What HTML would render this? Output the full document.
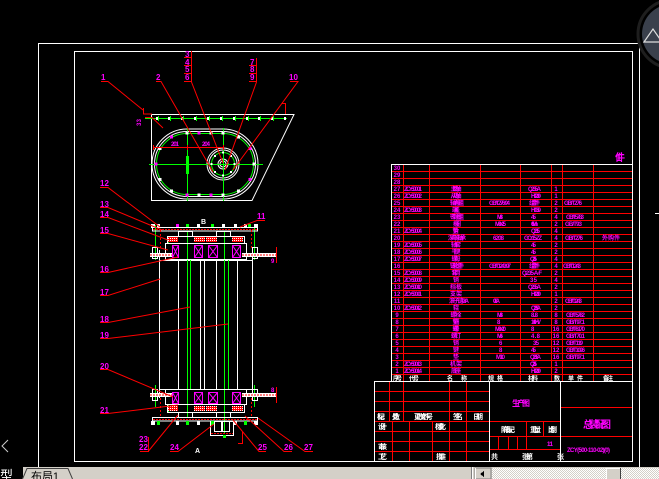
<!DOCTYPE html>
<html><head><meta charset="utf-8"><style>
html,body{margin:0;padding:0;background:#000;width:659px;height:479px;overflow:hidden}
svg{display:block}
text{font-family:"Liberation Sans","Noto Sans CJK SC",sans-serif}
.m{fill:#f0f;font-size:6px;font-weight:bold}
.w{fill:#fff;font-size:6px;font-weight:bold}
.lb{fill:#f0f;font-size:8px;font-weight:bold}
.tw{fill:#fff;font-size:7px;font-weight:bold}
</style></head><body>
<svg width="659" height="479" viewBox="0 0 659 479" xmlns="http://www.w3.org/2000/svg" shape-rendering="crispEdges">
<defs>
<pattern id="hx" width="2" height="2" patternUnits="userSpaceOnUse"><rect width="2" height="2" fill="#f00"/><rect width="1" height="1" fill="#fff"/></pattern>
<pattern id="chk" width="2" height="2" patternUnits="userSpaceOnUse"><rect width="2" height="2" fill="#fff"/><rect width="1" height="1" fill="#d4d0c8"/><rect x="1" y="1" width="1" height="1" fill="#d4d0c8"/></pattern>
</defs>
<rect width="659" height="479" fill="#000"/>

<!-- frames -->
<g stroke="#fff" fill="none">
<path d="M38.5,470 V43.5 H639.5 V470"/>
<path d="M74.5,461.5 V51.5 H632.5 V461.5 Z"/>
</g>

<!-- top-right nav widget -->
<circle cx="672" cy="34" r="34" fill="none" stroke="#1e1e1e" stroke-width="3" shape-rendering="auto"/>
<circle cx="672" cy="34" r="30" fill="#3a404c" shape-rendering="auto"/>
<polygon points="644,42 653,29 662,42" fill="none" stroke="#ddd" stroke-width="1.2" shape-rendering="auto"/>
<line x1="655" y1="213.5" x2="659" y2="213.5" stroke="#fff"/>
<polyline points="8,440 2,446 8,452" fill="none" stroke="#ccc" shape-rendering="auto"/>

<!-- ===== TOP VIEW ===== -->
<path d="M151.5,114.5 H294 L252,200.5 H151.5 Z" stroke="#fff" fill="none" shape-rendering="auto"/>
<line x1="145" y1="118.5" x2="287" y2="118.5" stroke="#0f0"/>
<g fill="#fff">
<rect x="156" y="117" width="2" height="3"/><rect x="168" y="117" width="2" height="3"/><rect x="181" y="117" width="2" height="3"/><rect x="194" y="117" width="2" height="3"/><rect x="207" y="117" width="2" height="3"/><rect x="220" y="117" width="2" height="3"/><rect x="233" y="117" width="2" height="3"/><rect x="246" y="117" width="2" height="3"/><rect x="258" y="117" width="2" height="3"/><rect x="271" y="117" width="2" height="3"/><rect x="284" y="117" width="2" height="3"/>
</g>
<g stroke="#0f0">
<path d="M158.5,116V121M170.5,116V121M183.5,116V121M196.5,116V121M209.5,116V121M222.5,116V121M235.5,116V121M248.5,116V121M260.5,116V121M273.5,116V121"/>
</g>
<path d="M187,129 H223 A35,35 0 0 1 223,199 H187 A35,35 0 0 1 187,129 Z" stroke="#fff" fill="none" shape-rendering="auto"/>
<path d="M187,131.5 H223 A32.5,32.5 0 0 1 223,196.5 H187 A32.5,32.5 0 0 1 187,131.5 Z" stroke="#fff" fill="none" shape-rendering="auto"/>
<path d="M187,133.5 H223 A30.5,30.5 0 0 1 223,194.5 H187 A30.5,30.5 0 0 1 187,133.5 Z" stroke="#0f0" fill="none" shape-rendering="auto"/>
<g fill="none" shape-rendering="auto">
<circle cx="223" cy="164" r="16" stroke="#fff"/>
<circle cx="223" cy="164" r="14" stroke="#fff"/>
<circle cx="223" cy="164" r="11.5" stroke="#0f0"/>
<circle cx="223" cy="164" r="5" stroke="#fff"/>
<circle cx="223" cy="164" r="3" stroke="#fff"/>
</g>
<g stroke="#0f0">
<line x1="149" y1="164.5" x2="263" y2="164.5"/>
<line x1="187.5" y1="128" x2="187.5" y2="201"/>
<line x1="223.5" y1="128" x2="223.5" y2="201"/>
</g>
<rect x="186" y="156" width="3" height="18" fill="#0f0"/>
<!-- chain dots -->
<g>
<rect x="185.5" y="131.5" width="3" height="3" fill="#fff"/><rect x="197.5" y="131.5" width="3" height="3" fill="#f0f"/><rect x="209.5" y="131.5" width="3" height="3" fill="#fff"/><rect x="221.5" y="131.5" width="3" height="3" fill="#fff"/>
<rect x="237" y="135.7" width="3" height="3" fill="#fff"/><rect x="248.3" y="147" width="3" height="3" fill="#f0f"/><rect x="252.5" y="162.5" width="3" height="3" fill="#fff"/><rect x="248.3" y="178" width="3" height="3" fill="#f0f"/><rect x="237" y="189.3" width="3" height="3" fill="#fff"/>
<rect x="221.5" y="193.5" width="3" height="3" fill="#fff"/><rect x="209.5" y="193.5" width="3" height="3" fill="#f0f"/><rect x="197.5" y="193.5" width="3" height="3" fill="#fff"/><rect x="185.5" y="193.5" width="3" height="3" fill="#f0f"/>
<rect x="170" y="189.3" width="3" height="3" fill="#fff"/><rect x="158.7" y="178" width="3" height="3" fill="#fff"/><rect x="154.5" y="162.5" width="3" height="3" fill="#f0f"/><rect x="158.7" y="147" width="3" height="3" fill="#fff"/><rect x="170" y="135.7" width="3" height="3" fill="#f0f"/>
</g>
<g fill="#fff">
<rect x="233.5" y="163" width="2" height="2"/><rect x="230" y="171" width="2" height="2"/><rect x="222" y="174.5" width="2" height="2"/><rect x="214" y="171" width="2" height="2"/><rect x="210.5" y="163" width="2" height="2"/><rect x="214" y="155" width="2" height="2"/><rect x="222" y="151.5" width="2" height="2"/><rect x="230" y="155" width="2" height="2"/>
</g>
<!-- dimension -->
<g stroke="#f00">
<line x1="153" y1="147.5" x2="223" y2="147.5"/>
<line x1="153.5" y1="145" x2="153.5" y2="150"/>
<line x1="187.5" y1="145" x2="187.5" y2="150"/>
<line x1="223.5" y1="145" x2="223.5" y2="150"/>
</g>
<text class="m" x="171" y="146" textLength="8">201</text>
<text class="m" x="202" y="146" textLength="8">204</text>

<!-- top view leaders -->
<g stroke="#f00" fill="none" shape-rendering="auto">
<path d="M101,81.5H108L143,110"/>
<path d="M143.5,108V114H152"/>
<path d="M145,117.5H152L163,128"/>
<path d="M156,81.5H161L213,172"/>
<path d="M191.5,51V82L223,163"/>
<path d="M184,57.5H191M184,65.5H191M184,73.5H191M184,81.5H191"/>
<path d="M256.5,58V82L225,170"/>
<path d="M249,65.5H256M249,73.5H256M249,81.5H256"/>
<path d="M290,81.5H298L233,170"/>
<path d="M282,103.5H285.5V114"/>
</g>
<text class="lb" x="101" y="80">1</text>
<text class="lb" x="156" y="80">2</text>
<text class="lb" x="185" y="57">3</text>
<text class="lb" x="185" y="65">4</text>
<text class="lb" x="185" y="72">5</text>
<text class="lb" x="185" y="80">6</text>
<text class="lb" x="250" y="65">7</text>
<text class="lb" x="250" y="72">8</text>
<text class="lb" x="250" y="80">9</text>
<text class="lb" x="289" y="80">10</text>
<text class="m" transform="translate(141,126) rotate(-90)" textLength="7">33</text>

<!-- ===== FRONT VIEW ===== -->
<g stroke="#fff" fill="none">
<line x1="159.5" y1="250" x2="159.5" y2="398"/>
<line x1="252.5" y1="250" x2="252.5" y2="398"/>
<line x1="178.5" y1="260" x2="178.5" y2="389"/>
<line x1="200.5" y1="260" x2="200.5" y2="389"/>
<line x1="204.5" y1="260" x2="204.5" y2="389"/>
<line x1="216.5" y1="260" x2="216.5" y2="389"/>
<line x1="237.5" y1="260" x2="237.5" y2="389"/>
<line x1="159" y1="260.5" x2="253" y2="260.5"/>
<line x1="159" y1="389.5" x2="253" y2="389.5"/>
</g>
<g stroke="#0f0">
<line x1="187.5" y1="232" x2="187.5" y2="417"/>
<line x1="190.5" y1="260" x2="190.5" y2="390"/>
<line x1="224.5" y1="232" x2="224.5" y2="433"/>
<line x1="228.5" y1="260" x2="228.5" y2="390"/>
<line x1="155.5" y1="225" x2="155.5" y2="260"/>
<line x1="254.5" y1="225" x2="254.5" y2="260"/>
<line x1="155.5" y1="385" x2="155.5" y2="407"/>
<line x1="254.5" y1="385" x2="254.5" y2="407"/>
<line x1="168.5" y1="236" x2="168.5" y2="244"/>
<line x1="244.5" y1="236" x2="244.5" y2="244"/>
<line x1="168.5" y1="404" x2="168.5" y2="412"/>
<line x1="244.5" y1="404" x2="244.5" y2="412"/>
</g>

<!-- top assembly -->
<g fill="#fff">
<rect x="151" y="224" width="4" height="4"/><rect x="157" y="224" width="3" height="4"/><rect x="176" y="224" width="3" height="4" fill="#f0f"/><rect x="186" y="224" width="3" height="4" fill="#0f0"/><rect x="197" y="224" width="3" height="4"/><rect x="211" y="224" width="3" height="4" fill="#0f0"/><rect x="222" y="224" width="3" height="4"/><rect x="234" y="224" width="3" height="4"/><rect x="244" y="224" width="3" height="4"/><rect x="248" y="224" width="3" height="4" fill="#0f0"/><rect x="254" y="224" width="4" height="4"/>
</g>
<rect x="152.5" y="227.5" width="105" height="3.5" fill="none" stroke="#fff"/>
<line x1="153" y1="229.5" x2="257" y2="229.5" stroke="#f00" stroke-dasharray="2,1"/>
<g stroke="#fff" fill="none">
<rect x="178.5" y="231.5" width="14" height="5"/>
<rect x="216.5" y="231.5" width="14" height="5"/>
<rect x="167.5" y="236.5" width="77" height="7"/>
<rect x="165.5" y="243.5" width="81" height="16"/>
<rect x="152.5" y="247.5" width="5" height="11"/>
<rect x="252.5" y="247.5" width="5" height="11"/>
</g>
<g fill="url(#hx)">
<rect x="168" y="237" width="10" height="5"/><rect x="194" y="237" width="11" height="5"/><rect x="206" y="237" width="11" height="5"/><rect x="232" y="237" width="11" height="5"/>
</g>
<g stroke="#f0f" fill="none" shape-rendering="auto">
<rect x="172.5" y="245.5" width="6" height="12"/><path d="M172.5,245.5L178.5,257.5M178.5,245.5L172.5,257.5"/>
<rect x="194.5" y="245.5" width="8" height="12"/><path d="M194.5,245.5L202.5,257.5M202.5,245.5L194.5,257.5"/>
<rect x="208.5" y="245.5" width="9" height="12"/><path d="M208.5,245.5L217.5,257.5M217.5,245.5L208.5,257.5"/>
<rect x="232.5" y="245.5" width="8" height="12"/><path d="M232.5,245.5L240.5,257.5M240.5,245.5L232.5,257.5"/>
</g>
<g>
<rect x="150" y="253" width="22" height="4" fill="#fff"/><line x1="150" y1="255" x2="172" y2="255" stroke="#f00" stroke-dasharray="2,1"/>
<rect x="242" y="253" width="35" height="4" fill="#fff"/><line x1="242" y1="255" x2="277" y2="255" stroke="#f00" stroke-dasharray="2,1"/>
</g>
<g stroke="#f00" stroke-dasharray="2,2">
<line x1="160.5" y1="230" x2="160.5" y2="250"/>
<line x1="251.5" y1="230" x2="251.5" y2="250"/>
</g>
<line x1="276.5" y1="247" x2="276.5" y2="263" stroke="#f00"/>
<text class="m" x="271" y="263" textLength="5">9</text>

<!-- bottom assembly -->
<g stroke="#fff" fill="none">
<rect x="165.5" y="389.5" width="81" height="15"/>
<rect x="167.5" y="404.5" width="77" height="8"/>
<rect x="178.5" y="412.5" width="14" height="5"/>
<rect x="216.5" y="412.5" width="14" height="5"/>
<rect x="152.5" y="389.5" width="5" height="11"/>
<rect x="252.5" y="389.5" width="5" height="11"/>
<rect x="152.5" y="417.5" width="105" height="3.5"/>
<rect x="210.5" y="421.5" width="23" height="14"/>
<rect x="214.5" y="421.5" width="7" height="10"/>
<rect x="222.5" y="421.5" width="7" height="10"/>
</g>
<line x1="153" y1="419.5" x2="257" y2="419.5" stroke="#f00" stroke-dasharray="2,1"/>
<line x1="211" y1="433.5" x2="233" y2="433.5" stroke="#f00" stroke-dasharray="2,1"/>
<g fill="#fff">
<rect x="151" y="421" width="4" height="4"/><rect x="157" y="421" width="3" height="4" fill="#0f0"/><rect x="176" y="421" width="3" height="4"/><rect x="186" y="421" width="3" height="4" fill="#0f0"/><rect x="197" y="421" width="3" height="4"/><rect x="211" y="421" width="3" height="4" fill="#0f0"/><rect x="234" y="421" width="3" height="4"/><rect x="244" y="421" width="3" height="4" fill="#0f0"/><rect x="254" y="421" width="4" height="4"/>
<rect x="223" y="435" width="3" height="3" fill="#0f0"/>
</g>
<g fill="url(#hx)">
<rect x="168" y="406" width="10" height="5"/><rect x="194" y="406" width="11" height="5"/><rect x="206" y="406" width="11" height="5"/><rect x="232" y="406" width="11" height="5"/>
</g>
<g stroke="#f0f" fill="none" shape-rendering="auto">
<rect x="172.5" y="392.5" width="6" height="11"/><path d="M172.5,392.5L178.5,403.5M178.5,392.5L172.5,403.5"/>
<rect x="194.5" y="392.5" width="8" height="11"/><path d="M194.5,392.5L202.5,403.5M202.5,392.5L194.5,403.5"/>
<rect x="208.5" y="392.5" width="9" height="11"/><path d="M208.5,392.5L217.5,403.5M217.5,392.5L208.5,403.5"/>
<rect x="232.5" y="392.5" width="8" height="11"/><path d="M232.5,392.5L240.5,403.5M240.5,392.5L232.5,403.5"/>
</g>
<g>
<rect x="150" y="393" width="22" height="4" fill="#fff"/><line x1="150" y1="395" x2="172" y2="395" stroke="#f00" stroke-dasharray="2,1"/>
<rect x="242" y="393" width="35" height="4" fill="#fff"/><line x1="242" y1="395" x2="277" y2="395" stroke="#f00" stroke-dasharray="2,1"/>
</g>
<g stroke="#f00" stroke-dasharray="2,2">
<line x1="160.5" y1="398" x2="160.5" y2="418"/>
<line x1="251.5" y1="398" x2="251.5" y2="418"/>
</g>
<line x1="276.5" y1="387" x2="276.5" y2="403" stroke="#f00"/>
<path d="M242.5,432V443.5H238" stroke="#f00" fill="none"/>
<text class="m" x="271" y="392" textLength="5">8</text>

<text class="tw" x="201" y="224">B</text>
<text class="tw" x="195" y="453">A</text>

<!-- front view leaders -->
<g stroke="#f00" fill="none" shape-rendering="auto">
<path d="M100,187.5H108L160,227"/>
<path d="M100,207.5H108L162,230"/>
<path d="M100,217.5H108L168,240"/>
<path d="M100,233.5H108L168,250"/>
<path d="M100,272.5H108L178,257"/>
<path d="M100,295.5H108L160,279"/>
<path d="M100,322.5H108L190,307"/>
<path d="M100,338.5H108L228,324"/>
<path d="M100,369.5H108L173,397"/>
<path d="M100,413.5H108L178,405"/>
<path d="M140,451.5H148.5V437M148.5,451L178,415"/>
<path d="M170,451.5H178L214,424"/>
<path d="M266,451.5H259L233,420"/>
<path d="M292,451.5H284L245,416"/>
<path d="M313,451.5H305L258,418"/>
<path d="M265,220.5H257L240,227"/>
</g>
<text class="lb" x="100" y="186">12</text>
<text class="lb" x="100" y="207">13</text>
<text class="lb" x="100" y="217">14</text>
<text class="lb" x="100" y="233">15</text>
<text class="lb" x="100" y="272">16</text>
<text class="lb" x="100" y="295">17</text>
<text class="lb" x="100" y="322">18</text>
<text class="lb" x="100" y="338">19</text>
<text class="lb" x="100" y="369">20</text>
<text class="lb" x="100" y="413">21</text>
<text class="lb" x="139" y="442">23</text>
<text class="lb" x="139" y="450">22</text>
<text class="lb" x="170" y="450">24</text>
<text class="lb" x="258" y="450">25</text>
<text class="lb" x="284" y="450">26</text>
<text class="lb" x="304" y="450">27</text>
<text class="lb" x="257" y="219">11</text>

<!-- ===== BOM TABLE ===== -->
<text class="m" x="615" y="161" style="font-size:10px" textLength="9">1件</text>
<g stroke="#f00">
<path d="M391,171.5H632M391,178.5H632M391,185.5H632M391,192.5H632M391,199.5H632M391,206.5H632M391,213.5H632M391,220.5H632M391,227.5H632M391,234.5H632M391,241.5H632M391,248.5H632M391,255.5H632M391,262.5H632M391,269.5H632M391,276.5H632M391,283.5H632M391,290.5H632M391,297.5H632M391,304.5H632M391,311.5H632M391,318.5H632M391,325.5H632M391,332.5H632M391,339.5H632M391,346.5H632M391,353.5H632M391,360.5H632M391,367.5H632M391,374.5H632"/>
<path d="M403.5,164V381M429.5,164V381M480.5,164V381M520.5,164V381M551.5,164V381M562.5,164V381M593.5,164V381"/>
</g>
<line x1="391" y1="164.5" x2="633" y2="164.5" stroke="#fff"/>
<line x1="391.5" y1="164" x2="391.5" y2="381" stroke="#fff"/>

<g class="m" text-anchor="middle">
<text x="397" y="170">30</text><text x="397" y="177">29</text><text x="397" y="184">28</text><text x="397" y="191">27</text><text x="397" y="198">26</text><text x="397" y="205">25</text><text x="397" y="212">24</text><text x="397" y="219">23</text><text x="397" y="226">22</text><text x="397" y="233">21</text><text x="397" y="240">20</text><text x="397" y="247">19</text><text x="397" y="254">18</text><text x="397" y="261">17</text><text x="397" y="268">16</text><text x="397" y="275">15</text><text x="397" y="282">14</text><text x="397" y="289">13</text><text x="397" y="296">12</text><text x="397" y="303">11</text><text x="397" y="310">10</text><text x="397" y="317">9</text><text x="397" y="324">8</text><text x="397" y="331">7</text><text x="397" y="338">6</text><text x="397" y="345">5</text><text x="397" y="352">4</text><text x="397" y="359">3</text><text x="397" y="366">2</text><text x="397" y="373">1</text>
</g>
<g class="m">
<text x="404" y="191" textLength="18">ZCY500-01</text>
<text x="404" y="198" textLength="18">ZCY500-02</text>
<text x="404" y="212" textLength="18">ZCY500-03</text>
<text x="404" y="233" textLength="18">ZCY500-04</text>
<text x="404" y="247" textLength="18">ZCY500-05</text>
<text x="404" y="254" textLength="18">ZCY500-06</text>
<text x="404" y="261" textLength="18">ZCY500-07</text>
<text x="404" y="275" textLength="18">ZCY500-08</text>
<text x="404" y="282" textLength="18">ZCY500-09</text>
<text x="404" y="289" textLength="18">ZCY500-10</text>
<text x="404" y="296" textLength="18">ZCY500-11</text>
<text x="404" y="310" textLength="18">ZCY500-12</text>
<text x="404" y="366" textLength="18">ZCY500-13</text>
<text x="404" y="373" textLength="18">ZCY500-14</text>
</g>
<g class="m" text-anchor="middle">
<text x="456" y="191" textLength="11">主动轴</text>
<text x="456" y="198" textLength="11">从动轴</text>
<text x="457" y="205" textLength="14">轴承座组</text>
<text x="456" y="212" textLength="8">端盖</text>
<text x="457" y="219" textLength="14">密封圈组</text>
<text x="457" y="226" textLength="8">挡圈</text>
<text x="456" y="233" textLength="7">垫片</text>
<text x="457" y="240" textLength="18">深沟球轴承</text>
<text x="456" y="247" textLength="10">轴套</text>
<text x="456" y="254" textLength="9">平键</text>
<text x="456" y="261" textLength="9">螺母</text>
<text x="457" y="268" textLength="14">链轮组件</text>
<text x="456" y="275" textLength="9">套筒</text>
<text x="456" y="282" textLength="7">销</text>
<text x="456" y="289" textLength="12">挡板</text>
<text x="456" y="296" textLength="12">支架</text>
<text x="459" y="303" textLength="20">滚子链08A</text>
<text x="456" y="310" textLength="6">辊</text>
<text x="456" y="317" textLength="11">螺栓</text>
<text x="456" y="324" textLength="7">垫圈</text>
<text x="456" y="331" textLength="7">螺母</text>
<text x="456" y="338" textLength="10">螺钉</text>
<text x="456" y="345" textLength="7">销</text>
<text x="456" y="352" textLength="7">键</text>
<text x="456" y="359" textLength="7">垫</text>
<text x="456" y="366" textLength="12">机架</text>
<text x="456" y="373" textLength="10">底座</text>
</g>
<g class="m">
<text x="489" y="205" textLength="21">GB/T276-94</text>
<text x="497" y="219" textLength="6">M8</text>
<text x="495" y="226" textLength="11">M8×25</text>
<text x="493" y="240" textLength="11">6208</text>
<text x="489" y="268" textLength="22">GB/T1243-97</text>
<text x="493" y="303" textLength="7">08A</text>
<text x="497" y="317" textLength="6">M8</text>
<text x="497" y="324" textLength="6">8</text>
<text x="495" y="331" textLength="11">M8×20</text>
<text x="497" y="338" textLength="6">M6</text>
<text x="499" y="345" textLength="5">6</text>
<text x="499" y="352" textLength="5">8</text>
<text x="496" y="359" textLength="9">M10</text>
</g>
<g class="m">
<text x="528" y="191" textLength="13">Q235-A</text>
<text x="531" y="198" textLength="10">HT200</text>
<text x="529" y="205" textLength="11">组合件</text>
<text x="531" y="212" textLength="10">HT150</text>
<text x="531" y="219" textLength="5">45</text>
<text x="531" y="226" textLength="7">65Mn</text>
<text x="531" y="233" textLength="9">Q235</text>
<text x="524" y="240" textLength="18">GCr15-ZZ</text>
<text x="531" y="247" textLength="5">45</text>
<text x="531" y="254" textLength="5">45</text>
<text x="530" y="261" textLength="7">Q235</text>
<text x="529" y="268" textLength="11">组合件</text>
<text x="522" y="275" textLength="20">Q235-A·F</text>
<text x="530" y="282" textLength="7">35</text>
<text x="528" y="289" textLength="13">Q235-A</text>
<text x="531" y="296" textLength="10">HT200</text>
<text x="531" y="310" textLength="10">Q235A</text>
<text x="531" y="317" textLength="7">8.8</text>
<text x="531" y="324" textLength="10">140HV</text>
<text x="531" y="331" textLength="5">8</text>
<text x="531" y="338" textLength="9">4.8</text>
<text x="533" y="345" textLength="6">35</text>
<text x="531" y="352" textLength="5">45</text>
<text x="530" y="359" textLength="11">Q235A</text>
<text x="530" y="366" textLength="7">Q235</text>
<text x="531" y="373" textLength="10">HT200</text>
</g>
<g class="m" text-anchor="middle">
<text x="556" y="191">1</text><text x="556" y="198">1</text><text x="556" y="205">2</text><text x="556" y="212">2</text><text x="556" y="219">4</text><text x="556" y="226">2</text><text x="556" y="233">4</text><text x="556" y="240">4</text><text x="556" y="247">2</text><text x="556" y="254">2</text><text x="556" y="261">4</text><text x="556" y="268">4</text><text x="556" y="275">2</text><text x="556" y="282">4</text><text x="556" y="289">2</text><text x="556" y="296">1</text><text x="556" y="303">2</text><text x="556" y="310">2</text><text x="556" y="317">8</text><text x="556" y="324">8</text><text x="556" y="331">16</text><text x="556" y="338">16</text><text x="556" y="345">12</text><text x="556" y="352">12</text><text x="556" y="359">16</text><text x="556" y="366">1</text><text x="556" y="373">2</text>
</g>
<g class="m">
<text x="564" y="205" textLength="18">GB/T276</text>
<text x="566" y="219" textLength="18">GB/T5783</text>
<text x="565" y="226" textLength="17">GB/T93</text>
<text x="565" y="240" textLength="18">GB/T276</text>
<text x="563" y="268" textLength="18">GB/T1243</text>
<text x="565" y="303" textLength="17">GB/T1243</text>
<text x="566" y="317" textLength="19">GB/T5782</text>
<text x="566" y="324" textLength="19">GB/T97.1</text>
<text x="566" y="331" textLength="19">GB/T6170</text>
<text x="566" y="338" textLength="19">GB/T70.1</text>
<text x="566" y="345" textLength="17">GB/T119</text>
<text x="566" y="352" textLength="19">GB/T1096</text>
<text x="566" y="359" textLength="19">GB/T97.1</text>
<text x="602" y="240" textLength="18">外购件</text>
</g>
<g class="w">
<text x="393" y="380.5" textLength="9">序号</text>
<text x="409" y="380.5" textLength="10">代号</text>
<text x="447" y="380.5" textLength="20">名　　称</text>
<text x="488" y="380.5" textLength="15">规格</text>
<text x="528" y="380.5" textLength="10">材料</text>
<text x="554" y="380.5" textLength="7">数</text>
<text x="568" y="380.5" textLength="15">单件</text>
<text x="603" y="380.5" textLength="10">备注</text>
</g>

<!-- ===== TITLE BLOCK ===== -->
<g stroke="#f00">
<path d="M374,391.5H489M374,401.5H489M374,411.5H489M374,421.5H560M374,431.5H489M374,441.5H489M374,451.5H489"/>
<path d="M389.5,381V421M403.5,381V421M449.5,381V461M466.5,381V461"/>
<path d="M392.5,421V461M409.5,421V461M432.5,421V461"/>
<path d="M489,436.5H560M489,449.5H560"/>
<path d="M526.5,421V449M543.5,421V436M498.5,436V449M508.5,436V449M517.5,436V449"/>
<path d="M560,407.5H632M560,436.5H632"/>
</g>
<g stroke="#fff">
<line x1="374" y1="381.5" x2="633" y2="381.5"/>
<line x1="374.5" y1="381" x2="374.5" y2="461"/>
<line x1="489.5" y1="381" x2="489.5" y2="461"/>
<line x1="560.5" y1="381" x2="560.5" y2="461"/>
</g>
<g class="tw">
<text x="377" y="419" textLength="8">标记</text>
<text x="392" y="419" textLength="8">处数</text>
<text x="414" y="419" textLength="19">更改文件号</text>
<text x="453" y="419" textLength="10">签名</text>
<text x="473" y="419" textLength="10">日期</text>
<text x="378" y="429" textLength="9">设计</text>
<text x="435" y="429" textLength="11">标准化</text>
<text x="378" y="449" textLength="9">审核</text>
<text x="378" y="459" textLength="9">工艺</text>
<text x="436" y="459" textLength="10">批准</text>
<text x="501" y="432" textLength="14">阶段标记</text>
<text x="530" y="432" textLength="11">重量</text>
<text x="548" y="432" textLength="9">比例</text>
<text x="491" y="459" textLength="5">共</text>
<text x="522" y="459" textLength="11">张 第</text>
<text x="557" y="459" textLength="3">张</text>
</g>
<text class="m" x="547" y="446" textLength="6">1:1</text>
<text x="512" y="406" fill="#f0f" font-size="8" font-weight="bold" textLength="18">生产图</text>
<text x="583" y="428" fill="#f0f" font-size="10" font-weight="bold" textLength="28">总装配图</text>
<text x="567" y="452" fill="#f0f" font-size="6" font-weight="bold" textLength="43">ZCY(500-110-02)(0)</text>

<!-- ===== BOTTOM TAB BAR ===== -->
<rect x="0" y="467" width="659" height="12" fill="#d4d0c8"/>
<rect x="0" y="467" width="23" height="12" fill="#000"/>
<text x="-13" y="480" fill="#fff" font-size="13">模型</text>
<polygon points="22,479 27,468 68,468 73,479" fill="#d4d0c8"/>
<path d="M22.5,479L27,468.5H68L72.5,479" stroke="#404040" fill="none" shape-rendering="auto"/>
<text x="31" y="480" fill="#000" font-size="11" textLength="28">布局1</text>
<line x1="471.5" y1="467" x2="471.5" y2="479" stroke="#808080"/>
<line x1="472.5" y1="467" x2="472.5" y2="479" stroke="#fff"/>
<rect x="475" y="468" width="16" height="11" fill="#d4d0c8" stroke="#808080"/>
<line x1="475.5" y1="468" x2="475.5" y2="479" stroke="#fff"/>
<polygon points="480,474 484,471 484,477" fill="#000"/>
<rect x="492" y="468" width="114" height="11" fill="url(#chk)"/>
<rect x="606" y="468" width="15" height="11" fill="#d4d0c8"/>
<path d="M606.5,479V468.5H620.5" stroke="#fff" fill="none"/>
<line x1="620.5" y1="468" x2="620.5" y2="479" stroke="#404040"/>
<rect x="621" y="468" width="38" height="11" fill="url(#chk)"/>
</svg>
</body></html>
